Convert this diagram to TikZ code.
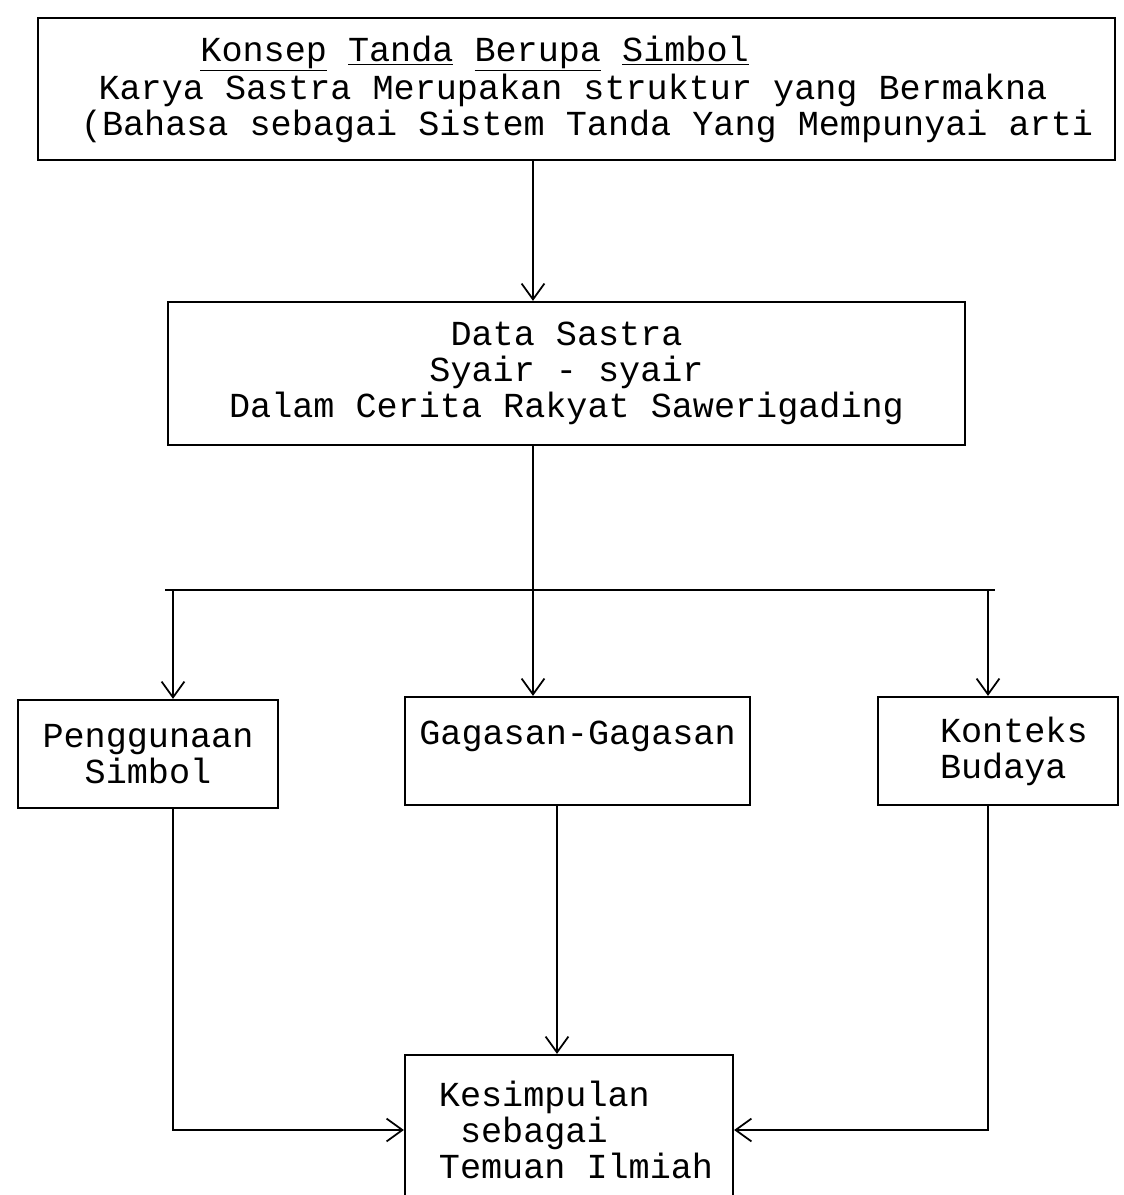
\documentclass[tikz,border=0pt]{standalone}
\usepackage{fontspec}
\setmonofont{Liberation Mono}
\usetikzlibrary{arrows.meta}
\usetikzlibrary{calc}

\tikzset{
    kotak/.style={draw, line width=1.3pt, inner sep=0pt,
        font=\ttfamily\fontsize{20}{20.5}\selectfont},
    panah/.style={line width=1pt, -{Straight Barb[length=9pt,width=13pt,line width=1pt]}},
    garis/.style={line width=1pt}
}

\begin{document}
\begin{tikzpicture}[x=0.02cm,y=-0.02cm]
                    \useasboundingbox (0,0) rectangle (1123,1195);
                    \clip (0,0) rectangle (1123,1195);

                    \node[kotak, align=left, minimum width=21.54cm, minimum height=2.84cm] (konsep) at (576.5,89)
                        {\hspace*{4em}\underline{Konsep} \underline{Tanda} \underline{Berupa} \underline{Simbol}\\
                         \hspace*{1.1em}Karya Sastra Merupakan struktur yang Bermakna\\
                         \hspace*{0.6em}(Bahasa sebagai Sistem Tanda Yang Mempunyai arti};
                    \node[kotak, align=center, minimum width=15.94cm, minimum height=2.86cm] (data) at (566.5,373.5)
                        {Data Sastra\\Syair - syair\\Dalam Cerita Rakyat Sawerigading};

                    \node[kotak, align=center, minimum width=5.2cm, minimum height=2.16cm] (penggunaan) at (148,754)
                        {Penggunaan\\Simbol};
                    \node[kotak, align=center, minimum width=6.9cm, minimum height=2.16cm] (gagasan) at (577.5,751)
                        {Gagasan-Gagasan\\\mbox{}};
                    \node[kotak, align=left, minimum width=4.8cm, minimum height=2.16cm] (konteks) at (998,751)
                        {\hspace*{0.9em}Konteks\\\hspace*{0.9em}Budaya};

                    \node[kotak, align=left, minimum width=6.56cm, minimum height=3cm] (kesimpulan) at (569,1130)
                        {\hspace*{0.4em}Kesimpulan\\\hspace*{1em}sebagai\\\hspace*{0.4em}Temuan Ilmiah};

                    \coordinate (poros) at (533,0);
                    \coordinate (cabangL) at (165,590);
                    \coordinate (cabangR) at (995,590);
                    \coordinate (turunL) at (173,590);
                    \coordinate (turunR) at (988,590);
                    \coordinate (tengah) at (557,0);

                    \draw[panah] (konsep.south -| poros) -- (data.north -| poros);
                    \draw[panah] (data.south -| poros) -- (gagasan.north -| poros);
                    \draw[garis] (cabangL) -- (cabangR);
                    \draw[panah] (turunL) -- (turunL |- penggunaan.north);
                    \draw[panah] (turunR) -- (turunR |- konteks.north);

                    \draw[panah] (penggunaan.south -| turunL) |- (kesimpulan.west);
                    \draw[panah] (gagasan.south -| tengah) -- (kesimpulan.north -| tengah);
                    \draw[panah] (konteks.south -| turunR) |- (kesimpulan.east);
                \end{tikzpicture}
\end{document}
